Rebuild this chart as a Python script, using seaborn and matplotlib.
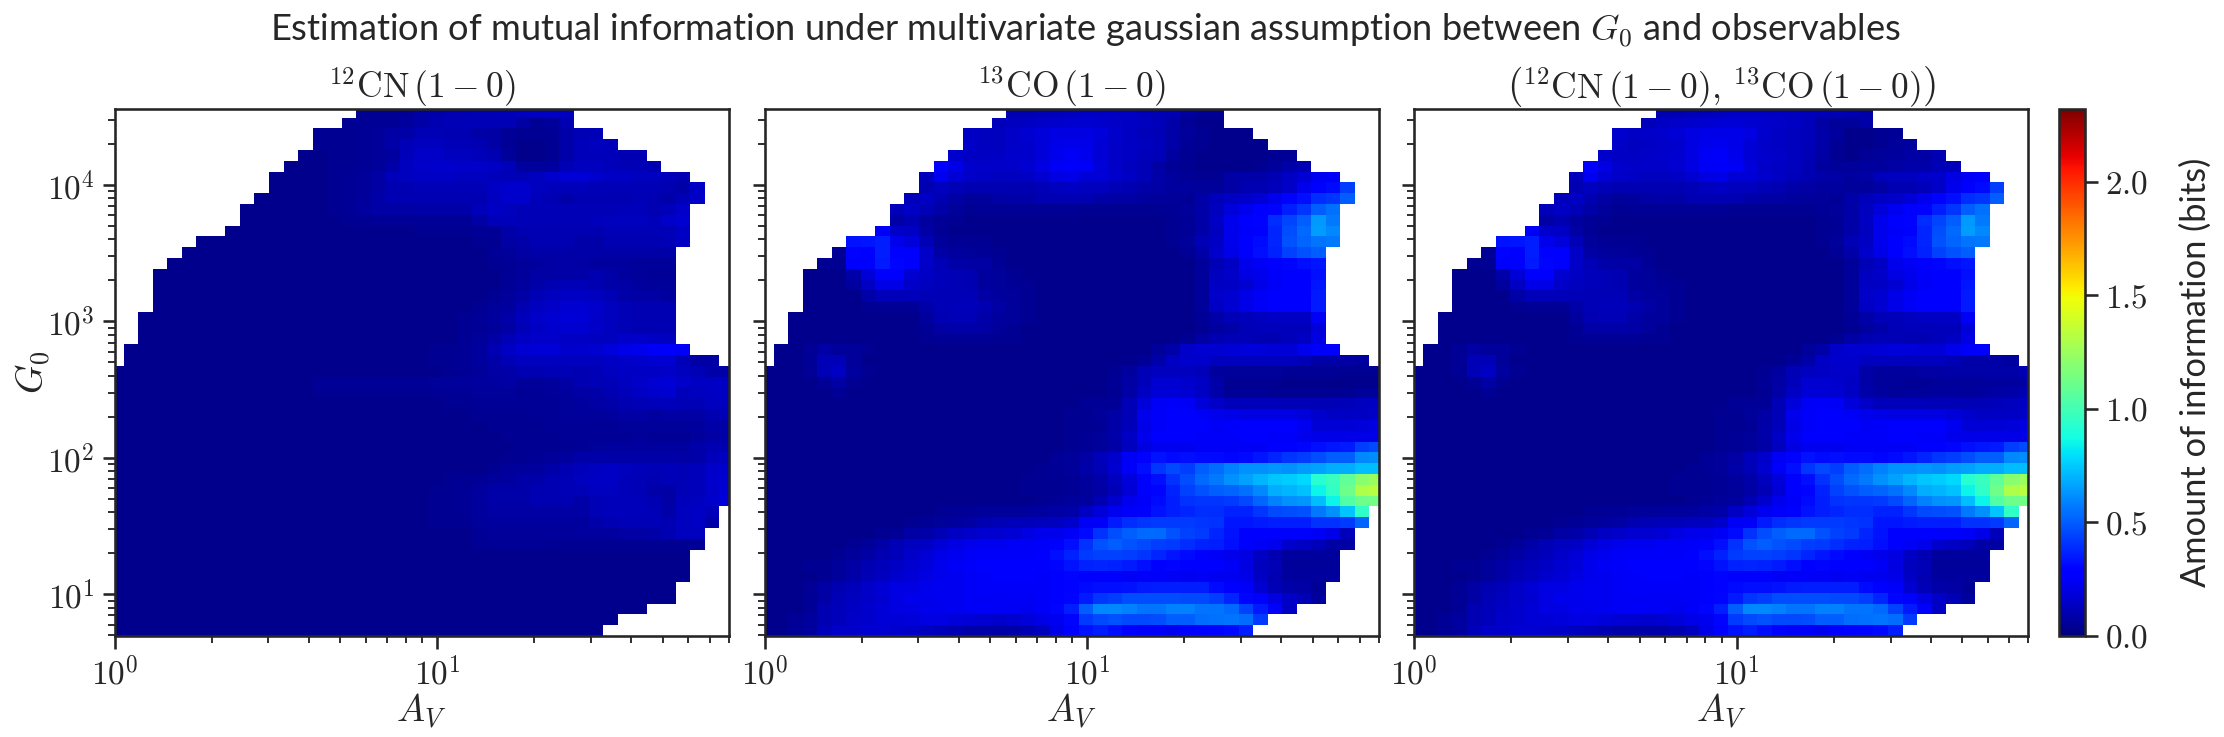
import numpy as np
import pandas as pd
import seaborn as sns
import matplotlib.pyplot as plt
from matplotlib.ticker import LogLocator, FuncFormatter, NullFormatter

# cells filled in each row of the grid (top row first), same for all panels
first_col = [17, 16, 14, 14, 13, 12, 11, 11, 10, 9, 9, 8, 6, 5, 4, 3, 3, 3, 3, 2, 2, 2, 1, 1] + [0] * 25
end_col = [32, 32, 34, 35, 37, 38, 40, 41, 41, 40, 40, 40, 40, 39, 39, 39, 39, 39, 39, 39, 39, 39, 40, 42] \
    + [43] * 13 + [42, 42, 41, 41, 40, 40, 40, 39, 39, 37, 35, 34]

# mutual information in hundredths of a bit, each row starts at first_col
mi_12cn = [
    [4, 4, 4, 5, 8, 9, 10, 10, 11, 11, 12, 13, 14, 14, 13],
    [4, 5, 5, 5, 7, 9, 10, 11, 11, 11, 11, 11, 8, 5, 6, 10],
    [4, 4, 4, 5, 6, 8, 9, 11, 11, 10, 10, 9, 8, 5, 4, 4, 5, 9, 11, 11],
    [4, 4, 4, 5, 6, 9, 11, 13, 13, 12, 11, 10, 8, 5, 3, 3, 4, 9, 12, 13, 12],
    [3, 3, 4, 4, 5, 6, 7, 12, 15, 15, 13, 13, 12, 10, 6, 3, 3, 4, 9, 12, 12, 12, 10, 10],
    [3, 3, 3, 4, 4, 5, 6, 9, 13, 15, 16, 16, 15, 15, 14, 12, 7, 6, 7, 11, 13, 13, 12, 11, 11, 10],
    [3, 3, 3, 3, 4, 5, 6, 8, 12, 13, 14, 14, 14, 13, 13, 12, 11, 11, 13, 16, 18, 18, 16, 14, 14, 13, 13, 12, 10],
    [3, 3, 3, 3, 4, 5, 6, 8, 10, 10, 11, 11, 11, 11, 11, 14, 16, 16, 13, 12, 12, 12, 11, 11, 11, 11, 11, 10, 9, 14],
    [3, 3, 3, 3, 3, 4, 5, 6, 9, 10, 10, 10, 10, 10, 10, 10, 13, 16, 16, 12, 10, 9, 10, 10, 10, 10, 11, 10, 9, 11, 15],
    [3, 3, 3, 3, 3, 3, 4, 5, 7, 8, 8, 8, 9, 9, 9, 9, 12, 14, 13, 11, 11, 11, 11, 11, 11, 11, 12, 12, 10, 12, 15],
    [3] * 7 + [4, 4, 5, 5, 5, 5, 5, 5, 5, 8, 12, 12, 11, 11, 11, 11, 11, 12, 13, 13, 13, 12, 15, 17],
    [3] * 13 + [4, 4, 4, 4, 5, 5, 9, 10, 10, 10, 10, 10, 10, 11, 11, 11, 11, 11, 14],
    [3] * 19 + [4, 4, 8, 9, 10, 10, 10, 9, 9, 10, 10, 10, 10, 11, 14],
    [3] * 21 + [5, 6, 8, 9, 9, 9, 9, 9, 9, 9, 9, 9, 9],
    [3] * 22 + [4, 5, 6, 7, 8, 8, 8, 7, 7, 7, 6, 6, 6],
    [3] * 24 + [5, 6, 8, 8, 8, 9, 10, 9, 7, 6, 5, 5],
    [3] * 24 + [5, 7, 9, 10, 11, 11, 10, 9, 8, 7, 6, 6],
    [3] * 23 + [4, 6, 8, 11, 13, 14, 14, 13, 11, 9, 8, 8, 7],
    [3] * 22 + [4, 6, 7, 10, 13, 15, 17, 17, 16, 13, 11, 10, 10, 10],
    [3] * 22 + [4, 5, 7, 9, 12, 15, 17, 18, 18, 15, 13, 11, 10, 10, 10],
    [3] * 22 + [4, 5, 6, 8, 11, 14, 16, 17, 17, 15, 13, 11, 10, 10, 10],
    [3] * 22 + [5, 6, 8, 11, 14, 15, 15, 14, 14, 13, 13, 15, 15, 14, 13],
    [3] * 21 + [4, 4, 5, 7, 10, 14, 17, 18, 18, 16, 16, 17, 19, 21, 22, 24, 25, 24],
    [3] * 21 + [4, 4, 5, 7, 9, 11, 13, 13, 13, 13, 13, 13, 14, 15, 16, 17, 17, 11, 8, 8],
    [3] * 23 + [4, 5, 6, 8, 9, 10, 10, 11, 11, 10, 11, 13, 14, 14, 14, 15, 13, 11, 9, 9],
    [3] * 14 + [5] * 8 + [6, 6, 7, 7, 7, 8, 6, 6, 7, 8, 10, 11, 11, 13, 15, 17, 18, 15, 14, 14, 14],
    [3] * 14 + [4] * 8 + [5, 5, 5, 6, 6, 6, 5, 5, 6, 7, 8, 9, 10, 12, 14, 16, 17, 12, 13, 14, 14],
    [3] * 23 + [4, 4, 5, 5, 5, 5, 5, 5, 6, 7, 8, 9, 10, 11, 12, 12, 11, 11, 13, 13],
    [3] * 25 + [4, 4, 4, 4, 5, 5, 6, 6, 6, 7, 8, 8, 7, 8, 8, 8, 10, 11],
    [3] * 26 + [4, 4, 4, 4, 5, 5, 5, 5, 5, 6, 6, 6, 6, 6, 7, 9, 9],
    [3] * 27 + [4, 4, 4, 4, 5, 5, 5, 5, 5, 6, 5, 5, 5, 6, 8, 9],
    [3] * 28 + [4, 4, 4, 4, 5, 6, 7, 7, 7, 7, 7, 7, 9, 10, 10],
    [3] * 27 + [4, 4, 5, 6, 7, 9, 9, 9, 9, 9, 9, 9, 8, 9, 12, 13],
    [3] * 26 + [4, 6, 6, 7, 9, 10, 12, 13, 14, 13, 12, 11, 12, 11, 12, 15, 16],
    [3] * 23 + [4, 4, 5, 6, 7, 9, 9, 10, 11, 13, 14, 14, 12, 11, 10, 11, 11, 12, 16, 17],
    [3] * 22 + [4, 4, 5, 7, 9, 9, 9, 10, 10, 11, 11, 13, 13, 12, 11, 9, 8, 11, 12, 15, 18],
    [3] * 22 + [4, 4, 5, 7, 9, 9, 9, 10, 10, 10, 9, 11, 12, 12, 12, 10, 8, 12, 13, 16, 19],
    [3] * 22 + [4, 4, 5, 7, 8, 8, 8, 8, 8, 8, 8, 11, 12, 12, 12, 11, 9, 13, 14, 12],
    [3] * 22 + [4, 4, 4, 6, 7, 7, 7, 7, 7, 7, 7, 9, 10, 11, 11, 11, 10, 13, 14, 9],
    [3] * 25 + [5, 6, 6, 6, 6, 6, 6, 7, 7, 7, 8, 8, 9, 10, 13, 13],
    [3] * 25 + [4, 5, 5, 5, 5, 4, 4, 4, 4, 4, 4, 4, 4, 4, 4, 5],
    [3] * 40,
    [3] * 40,
    [3] * 40,
    [3] * 39,
    [3] * 39,
    [3] * 37,
    [3] * 35,
    [3] * 34,
]

mi_13co = [
    [10, 10, 11, 12, 13, 14, 14, 14, 14, 12, 11, 10, 7, 5, 4],
    [12, 13, 14, 15, 16, 17, 17, 16, 15, 14, 13, 12, 9, 5, 3, 3],
    [14, 13, 13, 15, 17, 19, 20, 20, 20, 19, 16, 14, 12, 11, 9, 6, 4, 3, 3, 3],
    [15, 13, 13, 15, 16, 19, 21, 22, 21, 18, 15, 14, 13, 12, 9, 5, 4, 3, 3, 3, 3],
    [16, 14, 14, 14, 16, 16, 19, 22, 24, 22, 18, 15, 14, 12, 11, 7, 4, 3, 3, 3, 3, 3, 4, 5],
    [26, 21, 16, 15, 15, 15, 17, 20, 24, 25, 24, 19, 15, 13, 11, 8, 5, 4, 3, 3, 3, 3, 4, 6, 9, 10],
    [12, 23, 18, 15, 14, 13, 13, 14, 17, 20, 21, 18, 18, 16, 14, 11, 9, 7, 5, 4, 4, 8, 9, 9, 10, 14, 18, 23, 25],
    [10, 13, 11, 10, 10, 10, 10, 10, 11, 13, 14, 13, 13, 11, 10, 9, 8, 7, 7, 6, 6, 8, 10, 10, 12, 15, 22, 26, 31, 43],
    [12, 14, 10, 8, 6, 7, 8, 9, 9, 10, 10, 10, 10, 9, 8, 8, 7, 6, 6, 5, 9, 12, 14, 15, 18, 22, 29, 32, 39, 41, 50],
    [12, 14, 11, 9, 6, 4, 5, 5, 5, 5, 5, 5, 5, 4, 4, 4, 4, 4, 4, 5, 6, 9, 13, 19, 23, 27, 29, 36, 41, 50, 55],
    [8, 10, 7, 5, 4] + [3] * 14 + [4, 5, 9, 14, 22, 26, 29, 39, 45, 50, 64, 57],
    [25, 15, 14, 8, 5] + [3] * 15 + [4, 5, 9, 13, 22, 25, 28, 38, 47, 53, 65, 60],
    [33, 34, 36, 22, 19, 11, 6, 5, 4, 4] + [3] * 12 + [4, 6, 11, 14, 22, 28, 31, 38, 48, 52, 56, 57],
    [5, 29, 28, 36, 28, 27, 15, 8, 7, 6, 5, 4] + [3] * 12 + [5, 9, 16, 21, 27, 32, 37, 44, 48, 50],
    [4, 4, 26, 27, 35, 30, 28, 15, 11, 9, 8, 8, 5] + [3] * 13 + [6, 11, 14, 22, 24, 28, 30, 32, 34],
    [3, 3, 3, 9, 18, 27, 27, 17, 14, 12, 11, 10, 7, 6, 4] + [3] * 12 + [6, 13, 15, 20, 22, 25, 26, 27, 32],
    [3, 3, 3, 7, 14, 21, 21, 15, 13, 12, 11, 10, 7, 6, 5, 4] + [3] * 11 + [6, 14, 14, 17, 21, 24, 27, 27, 34],
    [3, 3, 3, 3, 9, 12, 12, 12, 11, 11, 11, 11, 8, 7, 6, 4] + [3] * 11 + [6, 15, 17, 21, 24, 26, 27, 28, 35],
    [3, 3, 3, 3, 4, 5, 5, 5, 9, 11, 12, 12, 10, 8, 6, 4] + [3] * 11 + [6, 14, 17, 21, 24, 26, 27, 28, 35],
    [3] * 9 + [7, 10, 11, 11, 9, 7, 6, 4] + [3] * 11 + [5, 9, 11, 12, 13, 14, 14, 14, 24],
    [3] * 9 + [5, 8, 9, 9, 8, 6, 4] + [3] * 12 + [4, 7, 9, 11, 12, 12, 12, 12, 19],
    [3] * 9 + [4, 5, 5, 5, 5, 4, 4] + [3] * 11 + [4, 8, 10, 11, 11, 10, 10, 12, 14, 20],
    [3, 3, 5, 8, 6, 6, 4] + [3] * 19 + [6, 9, 15, 17, 17, 18, 19, 19, 18, 18, 22, 25, 27],
    [3, 3, 5, 11, 11, 6] + [3] * 19 + [5, 9, 14, 16, 16, 13, 13, 13, 13, 13, 13, 11, 9, 9, 8, 7],
    [3, 3, 3, 5, 11, 14, 7, 4] + [3] * 16 + [4, 7, 11, 13, 13, 13, 12, 7, 6, 6, 6, 6, 5, 5, 5, 5, 4, 4, 4],
    [3, 3, 3, 3, 5, 8, 4] + [3] * 17 + [5, 8, 12, 17, 17, 16, 14, 9, 4, 4, 4, 4, 3, 3, 3, 3, 3, 3, 3],
    [3, 3, 3, 3, 3, 5, 3] + [3] * 17 + [4, 8, 14, 18, 18, 17, 14, 9, 5, 5, 5, 4, 4, 4, 4, 4, 4, 6, 6],
    [3] * 22 + [5, 5, 5, 11, 19, 24, 25, 24, 19, 15, 12, 12, 12, 12, 11, 11, 11, 11, 12, 13, 14],
    [3] * 21 + [4, 4, 6, 8, 11, 22, 25, 26, 26, 24, 22, 21, 20, 20, 20, 20, 19, 16, 14, 14, 14, 15],
    [3] * 21 + [4, 4, 5, 9, 12, 21, 25, 26, 26, 26, 24, 25, 26, 26, 26, 26, 23, 18, 18, 18, 19, 20],
    [3] * 21 + [4, 5, 6, 9, 14, 22, 26, 26, 26, 25, 25, 25, 26, 26, 25, 25, 22, 21, 21, 21, 21, 21],
    [3] * 21 + [4, 5, 6, 8, 13, 20, 23, 23, 23, 24, 24, 24, 24, 24, 26, 28, 30, 32, 34, 35, 43, 46],
    [3] * 20 + [5, 6, 8, 12, 16, 24, 29, 33, 31, 32, 31, 31, 30, 31, 34, 38, 41, 43, 47, 50, 50, 60, 61],
    [3] * 19 + [4, 5, 6, 9, 11, 17, 25, 32, 41, 46, 43, 50, 54, 58, 62, 62, 63, 62, 65, 66, 68, 68, 72, 72],
    [3] * 18 + [4, 4, 4, 5, 7, 9, 13, 19, 26, 32, 40, 47, 53, 57, 62, 66, 70, 74, 76, 78, 92, 97, 108, 120, 125],
    [3] * 18 + [4, 4, 4, 5, 6, 8, 11, 18, 26, 30, 37, 44, 48, 50, 52, 55, 60, 68, 70, 73, 85, 95, 112, 130, 133],
    [3] * 19 + [4, 5, 6, 7, 10, 16, 22, 25, 31, 36, 40, 41, 41, 42, 46, 52, 58, 62, 63, 72, 85, 105, 112, 114],
    [3] * 12 + [4, 5, 5, 6, 6, 6, 7, 7, 8, 9, 14, 19, 23, 25, 27, 33, 36, 38, 39, 39, 37, 37, 41, 46, 47, 48, 57, 62, 74, 95],
    [3] * 10 + [4, 5, 6, 7, 8, 10, 11, 12, 12, 13, 13, 16, 24, 25, 35, 39, 41, 42, 42, 42, 41, 40, 34, 34, 35, 36, 36, 36, 40, 40, 42, 52],
    [3] * 8 + [4, 5, 8, 9, 11, 14, 15, 17, 17, 18, 20, 22, 22, 24, 31, 40, 47, 50, 53, 53, 48, 44, 42, 38, 33, 28, 26, 26, 26, 26, 24, 21, 12],
    [3] * 6 + [4, 6, 9, 11, 13, 14, 18, 20, 22, 23, 23, 24, 24, 25, 27, 32, 40, 48, 50, 48, 46, 43, 42, 39, 37, 36, 32, 26, 24, 22, 16, 14, 12, 8, 8],
    [3] * 5 + [4, 6, 8, 10, 12, 15, 18, 21, 23, 24, 25, 25, 25, 25, 28, 32, 37, 42, 44, 44, 43, 41, 38, 34, 31, 27, 24, 22, 20, 14, 10, 7, 7, 7, 7],
    [3] * 3 + [4, 4, 6, 8, 10, 12, 14, 17, 19, 22, 24, 25, 26, 26, 26, 26, 26, 30, 33, 37, 38, 37, 35, 32, 28, 30, 28, 26, 26, 24, 20, 13, 11, 6, 6, 6, 6],
    [3] * 4 + [4, 6, 9, 11, 13, 16, 18, 20, 22, 23, 24, 25, 26, 26, 26, 25, 28, 30, 27, 26, 26, 24, 25, 25, 24, 23, 24, 23, 23, 21, 14, 10, 7, 7, 7, 7],
    [3, 3, 3, 5, 8, 10, 12, 15, 18, 20, 20, 22, 23, 23, 24, 25, 25, 25, 25, 25, 26, 29, 31, 32, 32, 33, 35, 36, 36, 36, 36, 31, 28, 25, 17, 11, 9, 8, 5],
    [3, 3, 3, 5, 8, 11, 13, 15, 17, 20, 22, 22, 23, 23, 24, 24, 24, 24, 24, 25, 27, 30, 35, 41, 43, 47, 47, 47, 47, 46, 46, 43, 38, 30, 26, 20, 15, 11, 7],
    [3, 3, 3, 5, 10, 12, 14, 16, 18, 20, 20, 22, 22, 23, 24, 25, 24, 24, 23, 25, 30, 36, 50, 60, 60, 58, 56, 56, 58, 58, 56, 56, 53, 44, 35, 28, 14],
    [3, 3, 5, 7, 10, 12, 15, 16, 18, 18, 19, 20, 20, 19, 18, 17, 16, 17, 19, 21, 23, 30, 42, 46, 48, 46, 46, 47, 50, 50, 54, 55, 56, 54, 42],
    [3, 3, 5, 7, 12, 15, 15, 17, 17, 16, 15, 13, 12, 10, 9, 9, 9, 9, 10, 13, 21, 27, 33, 36, 32, 29, 25, 25, 23, 28, 29, 30, 31, 36],
]

# the joint panel reads the same as 13CO apart from these rows
mi_joint = list(mi_13co)
mi_joint[0] = [10, 10, 11, 12, 13, 14, 14, 14, 14, 13, 12, 11, 11, 10, 9]
mi_joint[1] = [12, 14, 15, 16, 17, 18, 18, 17, 16, 15, 14, 12, 8, 6, 6, 9]
mi_joint[2] = [16, 14, 15, 16, 18, 20, 21, 21, 21, 20, 16, 14, 13, 12, 9, 7, 3, 3, 4, 5]
mi_joint[3] = [15, 13, 14, 15, 16, 20, 22, 23, 21, 18, 15, 14, 13, 11, 9, 5, 3, 3, 4, 6, 7]
mi_joint[4] = [16, 14, 14, 15, 16, 17, 20, 24, 25, 22, 18, 16, 15, 13, 11, 8, 4, 3, 5, 6, 7, 8, 8, 10]
mi_joint[5] = [26, 20, 16, 15, 15, 15, 17, 20, 24, 25, 24, 19, 15, 14, 13, 10, 7, 6, 6, 7, 7, 8, 9, 9, 11, 12]
mi_joint[6] = [12, 23, 18, 15, 14, 13, 13, 14, 17, 20, 21, 18, 18, 16, 14, 12, 10, 9, 8, 7, 8, 12, 13, 13, 15, 16, 20, 24, 26]
mi_joint[24] = [3, 3, 3, 5, 11, 14, 7, 4] + [3] * 16 + [4, 7, 11, 13, 14, 15, 15, 9, 7, 7, 7, 8, 8, 9, 9, 9, 9, 9, 10]
mi_joint[25] = [3, 3, 3, 3, 5, 8, 4] + [3] * 17 + [5, 8, 12, 17, 17, 16, 14, 9, 6, 6, 5, 5, 6, 6, 6, 6, 7, 7, 8]
mi_joint[26] = [3, 3, 3, 3, 3, 5, 3] + [3] * 17 + [4, 8, 14, 18, 18, 17, 14, 9, 7, 6, 6, 6, 7, 7, 6, 7, 8, 9, 10]

titles = [
    r"${}^{12}\mathrm{CN}\,(1-0)$",
    r"${}^{13}\mathrm{CO}\,(1-0)$",
    r"$\left({}^{12}\mathrm{CN}\,(1-0),\,{}^{13}\mathrm{CO}\,(1-0)\right)$",
]
suptitle = r"Estimation of mutual information under multivariate gaussian assumption between $G_0$ and observables"
cbar_ticks = [0.0, 0.5, 1.0, 1.5, 2.0]
MI_MAX = 2.32
AV_RANGE = (1, 80)
G0_RANGE = (4.95, 36000)
N_COLS = 43


def build_table(rows):
    # put the rows back on the full grid, blank outside the covered region
    table = np.full((len(rows), N_COLS), np.nan)
    for r, vals in enumerate(rows):
        n = end_col[r] - first_col[r]
        vals = (vals + [vals[-1]] * n)[:n]
        table[r, first_col[r]:end_col[r]] = np.array(vals) / 100
    return pd.DataFrame(table)


def power_label(v, pos):
    return rf"$10^{{{int(round(np.log10(v)))}}}$"


sns.set_theme(style="ticks")
plt.rcParams["mathtext.fontset"] = "cm"
plt.rcParams["font.family"] = ["Lato", "DejaVu Sans"]

W, H = 2224, 737
fig = plt.figure(figsize=(W / 150, H / 150), dpi=150)
lefts = [114.5, 764.5, 1414]
top, bottom = 109, 636

for i, (rows, title) in enumerate(zip([mi_12cn, mi_13co, mi_joint], titles)):
    rect = [lefts[i] / W, 1 - bottom / H, 614 / W, (bottom - top) / H]
    ax = fig.add_axes(rect)
    if i == 2:
        cax = fig.add_axes([2059 / W, 1 - bottom / H, 26 / W, (bottom - top) / H])
        sns.heatmap(build_table(rows), ax=ax, cmap="jet", vmin=0, vmax=MI_MAX, cbar_ax=cax,
                    xticklabels=False, yticklabels=False)
        cbar = ax.collections[0].colorbar
        cbar.outline.set_linewidth(1.25)
        cbar.outline.set_edgecolor("#262626")
        cbar.set_ticks(cbar_ticks)
        cbar.set_ticklabels([f"${t:.1f}$" for t in cbar_ticks])
        cbar.ax.tick_params(labelsize=16, length=6, width=1.25)
        cbar.set_label("Amount of information (bits)", fontsize=16.5, labelpad=15)
    else:
        sns.heatmap(build_table(rows), ax=ax, cmap="jet", vmin=0, vmax=MI_MAX, cbar=False,
                    xticklabels=False, yticklabels=False)
    # first and last columns and the top row are cut by the axes limits
    ax.set_xlim(0.36, 42.64)
    ax.set_ylim(49, 0.2)
    ax.set_axis_off()

    # log axes over the grid for the ticks and frame
    over = fig.add_axes(rect, facecolor="none")
    over.set_xscale("log")
    over.set_yscale("log")
    over.set_xlim(*AV_RANGE)
    over.set_ylim(*G0_RANGE)
    for axis in (over.xaxis, over.yaxis):
        axis.set_major_locator(LogLocator(base=10, numticks=12))
        axis.set_minor_locator(LogLocator(base=10, subs=range(2, 10), numticks=12))
        axis.set_major_formatter(FuncFormatter(power_label))
        axis.set_minor_formatter(NullFormatter())
    over.tick_params(which="major", labelsize=16, length=6, width=1.25)
    over.tick_params(which="minor", length=3.5, width=0.9)
    over.set_xlabel(r"$A_V$", fontsize=18, labelpad=0.5)
    over.set_title(title, fontsize=17, pad=3)
    if i == 0:
        over.set_ylabel(r"$G_0$", fontsize=18, labelpad=-3)
    else:
        over.tick_params(axis="y", which="both", labelleft=False)

fig.text(0.488, 0.958, suptitle, ha="center", va="center", fontsize=17.4)
fig.savefig("out.png", dpi=150)
